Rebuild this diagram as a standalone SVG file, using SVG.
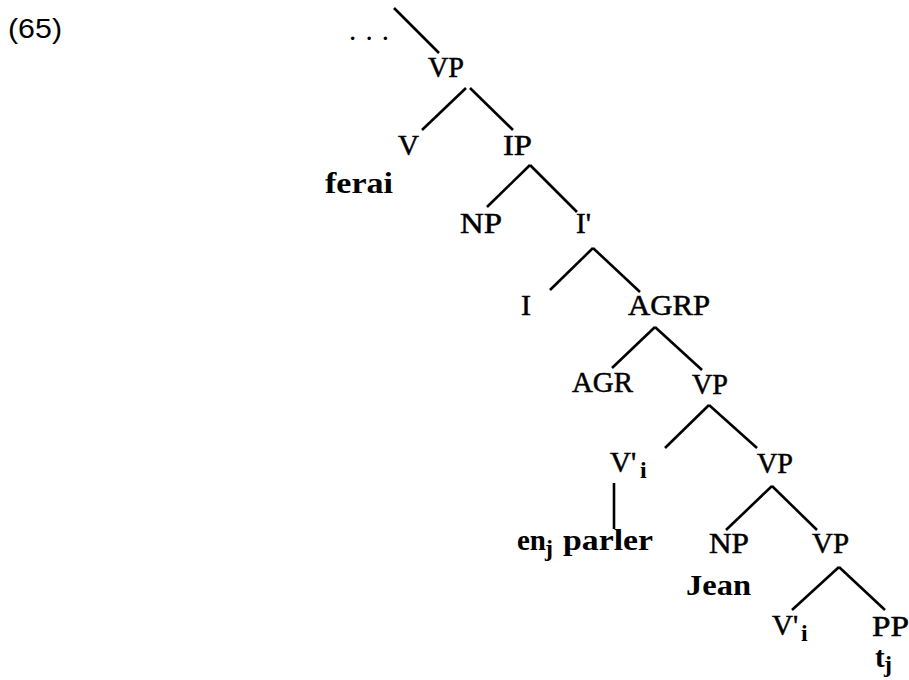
<svg xmlns="http://www.w3.org/2000/svg" width="909" height="680" viewBox="0 0 909 680">
<style>
.l{font-family:"Liberation Serif","Times New Roman",serif;font-size:29px;fill:#000;stroke:#000;stroke-width:0.5}
.b{font-family:"Liberation Serif","Times New Roman",serif;font-size:29px;font-weight:bold;fill:#000}
.d{font-family:"Liberation Serif","Times New Roman",serif;font-size:29px;fill:#000}
.s{font-size:24px;font-weight:bold;stroke-width:0}
.n{font-family:"Liberation Sans",Arial,sans-serif;font-size:28px;fill:#000}
.e line{stroke:#000;stroke-width:2.6;stroke-linecap:butt}
</style>
<rect width="909" height="680" fill="#fff"/>
<text class="n" x="8" y="38" textLength="54" lengthAdjust="spacingAndGlyphs">(65)</text>
<g id="edges" class="e">
<line x1="394" y1="8" x2="439" y2="53"/>
<line x1="466" y1="88" x2="422" y2="130"/>
<line x1="470" y1="88" x2="513" y2="130"/>
<line x1="530" y1="165" x2="487" y2="207"/>
<line x1="530" y1="165" x2="577" y2="212"/>
<line x1="593" y1="248" x2="550" y2="290"/>
<line x1="593" y1="248" x2="640" y2="292"/>
<line x1="655" y1="327" x2="612" y2="368"/>
<line x1="655" y1="327" x2="702" y2="370"/>
<line x1="709" y1="405" x2="665" y2="448"/>
<line x1="709" y1="405" x2="757" y2="448"/>
<line x1="614" y1="483" x2="614" y2="529"/>
<line x1="772" y1="486" x2="726" y2="530"/>
<line x1="772" y1="486" x2="817" y2="530"/>
<line x1="839" y1="567" x2="792" y2="610"/>
<line x1="839" y1="567" x2="885" y2="610"/>
</g>
<g id="dots"><text class="d" x="349" y="40" textLength="40" lengthAdjust="spacing">. . .</text></g>
<g id="vp1"><text class="l" x="428" y="77" textLength="36" lengthAdjust="spacingAndGlyphs">VP</text></g>
<g id="v1"><text class="l" x="398" y="155" textLength="21" lengthAdjust="spacingAndGlyphs">V</text></g>
<g id="ferai"><text class="b" x="325" y="193" textLength="68" lengthAdjust="spacingAndGlyphs">ferai</text></g>
<g id="ip"><text class="l" x="503" y="155" textLength="29" lengthAdjust="spacingAndGlyphs">IP</text></g>
<g id="np1"><text class="l" x="460" y="233" textLength="42" lengthAdjust="spacingAndGlyphs">NP</text></g>
<g id="ibar"><text class="l" x="576" y="233">I'</text></g>
<g id="i"><text class="l" x="521" y="315" textLength="10" lengthAdjust="spacingAndGlyphs">I</text></g>
<g id="agrp"><text class="l" x="628" y="315" textLength="82" lengthAdjust="spacingAndGlyphs">AGRP</text></g>
<g id="agr"><text class="l" x="572" y="392" textLength="61" lengthAdjust="spacingAndGlyphs">AGR</text></g>
<g id="vp2"><text class="l" x="692" y="394" textLength="36" lengthAdjust="spacingAndGlyphs">VP</text></g>
<g id="vbar1"><text class="l" x="610" y="472">V'<tspan class="s" x="640" y="478">i</tspan></text></g>
<g id="vp3"><text class="l" x="757" y="473" textLength="36" lengthAdjust="spacingAndGlyphs">VP</text></g>
<g id="enparler"><text class="b" x="517" y="550">en<tspan class="s" x="545" y="556">j</tspan><tspan x="563" y="550" textLength="90" lengthAdjust="spacingAndGlyphs">parler</tspan></text></g>
<g id="np2"><text class="l" x="709" y="553" textLength="40" lengthAdjust="spacingAndGlyphs">NP</text></g>
<g id="jean"><text class="b" x="686" y="595" textLength="65" lengthAdjust="spacingAndGlyphs">Jean</text></g>
<g id="vp4"><text class="l" x="812" y="553" textLength="37" lengthAdjust="spacingAndGlyphs">VP</text></g>
<g id="vbar2"><text class="l" x="772" y="635">V'<tspan class="s" x="801" y="641">i</tspan></text></g>
<g id="pp"><text class="l" x="872" y="636" textLength="37" lengthAdjust="spacingAndGlyphs">PP</text></g>
<g id="tj"><text class="b" x="875" y="667">t<tspan class="s" x="884" y="672">j</tspan></text></g>
</svg>
